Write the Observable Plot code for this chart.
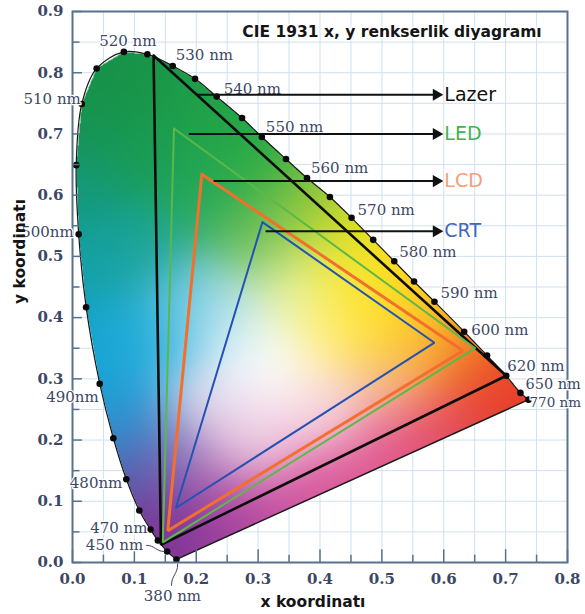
<!DOCTYPE html>
<html>
<head>
<meta charset="utf-8">
<script src="https://cdn.jsdelivr.net/npm/d3@7"></script>
<script src="https://cdn.jsdelivr.net/npm/@observablehq/plot@0.6"></script>
<style>
  body { margin: 0; background: #ffffff; }
  #chart { width: 585px; height: 614px; }
</style>
</head>
<body>
<div id="chart"></div>
<script>
// ---------------- DATA ----------------
const wavelengths = [380, 450, 460, 470, 475, 480, 485, 490, 495, 500, 505, 510, 515, 520, 525, 530, 535, 540, 545, 550, 555, 560, 565, 570, 575, 580, 585, 590, 600, 610, 620, 650, 770];
const locusX = [0.168, 0.153, 0.138, 0.126, 0.108, 0.087, 0.066, 0.044, 0.022, 0.010, 0.006, 0.015, 0.039, 0.083, 0.121, 0.162, 0.198, 0.233, 0.274, 0.306, 0.345, 0.379, 0.416, 0.451, 0.486, 0.520, 0.552, 0.585, 0.633, 0.670, 0.701, 0.724, 0.737];
const locusY = [0.005, 0.018, 0.036, 0.054, 0.085, 0.136, 0.203, 0.292, 0.417, 0.536, 0.649, 0.749, 0.807, 0.834, 0.830, 0.811, 0.790, 0.761, 0.726, 0.695, 0.659, 0.628, 0.597, 0.563, 0.527, 0.492, 0.459, 0.426, 0.377, 0.338, 0.305, 0.277, 0.266];

const labelWavelengths = [520, 530, 540, 550, 560, 570, 580, 590, 600, 620, 650, 770, 510, 500, 490, 480, 470, 450, 380];
const labelTexts = ["520 nm", "530 nm", "540 nm", "550 nm", "560 nm", "570 nm", "580 nm", "590 nm", "600 nm", "620 nm", "650 nm", "770 nm", "510 nm", "500nm", "490nm", "480nm", "470 nm", "450 nm", "380 nm"];

const laserX = [0.131, 0.701, 0.143];
const laserY = [0.828, 0.305, 0.029];
const ledX = [0.164, 0.651, 0.146];
const ledY = [0.709, 0.350, 0.033];
const lcdX = [0.209, 0.631, 0.154];
const lcdY = [0.634, 0.346, 0.052];
const crtX = [0.307, 0.585, 0.167];
const crtY = [0.556, 0.359, 0.089];

const gamutNames = ["Lazer", "LED", "LCD", "CRT"];
const arrowY = [0.764, 0.700, 0.623, 0.541];
const arrowStartX = [0.200, 0.188, 0.228, 0.312];
const arrowEndX = [0.588, 0.588, 0.588, 0.588];

const xTickValues = [0, 0.1, 0.2, 0.3, 0.4, 0.5, 0.6, 0.7, 0.8];
const xTickLabels = ["0.0", "0.1", "0.2", "0.3", "0.4", "0.5", "0.6", "0.7", "0.8"];
const yTickValues = [0, 0.1, 0.2, 0.3, 0.4, 0.5, 0.6, 0.7, 0.8, 0.9];
const yTickLabels = ["0.0", "0.1", "0.2", "0.3", "0.4", "0.5", "0.6", "0.7", "0.8", "0.9"];
const gridXValues = d3.range(0, 17).map(i => i * 0.05);
const gridYValues = d3.range(0, 19).map(i => i * 0.05);

const chartTitle = "CIE 1931 x, y renkserlik diyagramı";
const xTitle = "x koordinatı";
const yTitle = "y koordinatı";

// ---------------- STYLE ----------------
const gamutColors = ["#111111", "#3fb34f", "#f4a07c", "#4266c2"];
const triStyles = [
  {stroke: "#0d0d0d", width: 2.6},
  {stroke: "#5bb84a", width: 2},
  {stroke: "#f2702c", width: 3},
  {stroke: "#2452b2", width: 2}
];
// [dx, dy, textAnchor, fontSize]
const labelStyle = {
  520: [4, -11, "middle", 15], 530: [3, -11, "start", 15], 540: [7, -7, "start", 15], 550: [4, -10, "start", 15],
  560: [4, -10, "start", 15], 570: [6, -8, "start", 15], 580: [5, -9, "start", 15], 590: [6, -9, "start", 15],
  600: [7, -2, "start", 15], 620: [1, -10, "start", 15], 650: [5, -9, "start", 14.5], 770: [1, 3, "start", 13.5],
  510: [-1, -5, "end", 15], 500: [-5, -2, "end", 15], 490: [-1, 13, "end", 15], 480: [-4, 4, "end", 15],
  470: [-3, -1, "end", 15], 450: [-24, -6, "end", 15], 380: [-4, 37, "middle", 15]
};
// colour anchors of the painted gradient (x, y, colour)
const gradX = [0.08, 0.03, 0.15, 0.22, 0.30, 0.38, 0.45, 0.12, 0.21, 0.29, 0.01, 0.02, 0.05, 0.08, 0.10, 0.115, 0.12, 0.14, 0.15, 0.22, 0.30, 0.40, 0.50, 0.60, 0.70, 0.66, 0.61, 0.54, 0.49, 0.31, 0.25, 0.20, 0.22, 0.19, 0.30, 0.41, 0.42, 0.36, 0.52, 0.47, 0.55];
const gradY = [0.80, 0.73, 0.79, 0.73, 0.66, 0.59, 0.53, 0.67, 0.60, 0.53, 0.61, 0.49, 0.37, 0.25, 0.185, 0.13, 0.51, 0.37, 0.04, 0.05, 0.08, 0.12, 0.17, 0.22, 0.27, 0.32, 0.37, 0.44, 0.40, 0.33, 0.39, 0.43, 0.26, 0.16, 0.20, 0.25, 0.38, 0.45, 0.30, 0.44, 0.38];
const gradColor = ["#178f47", "#15934f", "#1b9a48", "#22a348", "#2cab45", "#8cc63f", "#e6e21f", "#199c55", "#25a858", "#6cbf56", "#14987a", "#14a0a6", "#15a5d2", "#1d9fd8", "#3a84c6", "#6a3f9b", "#19a498", "#25b0de", "#763092", "#9a3d9e", "#c04b9f", "#d8559b", "#df558f", "#e44a62", "#e4352b", "#ee5a27", "#f59a1e", "#fcd31c", "#ffe52a", "#ffffff", "#d2eef6", "#7ccce6", "#ebe0f0", "#b073b9", "#f3d3e5", "#f8dce3", "#fff39a", "#e8f29a", "#f6b19a", "#ffe820", "#fdc72a"];

// ---------------- BUILD ----------------
const locus = wavelengths.map((w, i) => ({w, x: locusX[i], y: locusY[i]}));
const locusPoly = locus.map(d => [d.x, d.y]);
const byW = new Map(locus.map(d => [d.w, d]));
const gradRGB = gradColor.map(c => d3.rgb(c));
const sigma2 = 2 * 0.055 * 0.055;

function fieldColor(x, y) {
  if (!d3.polygonContains(locusPoly, [x, y])) return null;
  let sw = 0, r = 0, g = 0, b = 0;
  for (let i = 0; i < gradX.length; ++i) {
    const dx = x - gradX[i], dy = y - gradY[i];
    const w = Math.exp(-(dx * dx + dy * dy) / sigma2) + 1e-12;
    sw += w; r += w * gradRGB[i].r; g += w * gradRGB[i].g; b += w * gradRGB[i].b;
  }
  return `rgb(${Math.round(r / sw)},${Math.round(g / sw)},${Math.round(b / sw)})`;
}

const tri = (X, Y) => [0, 1, 2, 0].map(i => ({x: X[i], y: Y[i]}));
const triangles = [tri(laserX, laserY), tri(ledX, ledY), tri(lcdX, lcdY), tri(crtX, crtY)];
const arrows = gamutNames.map((name, i) => ({name, y: arrowY[i], x1: arrowStartX[i], x2: arrowEndX[i], color: gamutColors[i]}));

const serif = "DejaVu Serif";
const sans = "DejaVu Sans";
const axisCol = "#56728f";
const labelCol = "#3b4764";

const marks = [
  Plot.ruleX(gridXValues, {stroke: "#cfe1ef", strokeWidth: 1}),
  Plot.ruleY(gridYValues, {stroke: "#cfe1ef", strokeWidth: 1}),
  Plot.raster({x1: 0, x2: 0.8, y1: 0, y2: 0.9, fill: fieldColor, pixelSize: 1}),
  Plot.line(locus, {x: "x", y: "y", stroke: "#1a1a1a", strokeWidth: 1.2, curve: "catmull-rom"}),
  Plot.link([0], {x1: () => locusX[0], y1: () => locusY[0], x2: () => locusX[locusX.length - 1], y2: () => locusY[locusY.length - 1], stroke: "#1a1a1a", strokeWidth: 1.5}),
  ...triangles.map((t, i) => Plot.line(t, {x: "x", y: "y", stroke: triStyles[i].stroke, strokeWidth: triStyles[i].width, strokeLinejoin: "miter"})),
  Plot.dot(locus, {x: "x", y: "y", r: 3.3, fill: "#0a0a0a"}),
  // axis ticks (inward)
  Plot.ruleX(gridXValues, {y1: 0, y2: (d, i) => (i % 2 === 0 ? 0.021 : 0.012), stroke: axisCol, strokeWidth: 1.5}),
  Plot.ruleY(gridYValues, {x1: 0, x2: (d, i) => (i % 2 === 0 ? 0.016 : 0.012), stroke: axisCol, strokeWidth: 1.5}),
  Plot.frame({stroke: axisCol, strokeWidth: 2}),
  // tick labels
  Plot.text(xTickValues, {x: d => d, y: 0, text: (d, i) => xTickLabels[i], dy: 17, fontFamily: serif, fontWeight: "bold", fontSize: 15, fill: labelCol}),
  Plot.text(yTickValues, {x: 0, y: d => d, text: (d, i) => yTickLabels[i], dx: -9, textAnchor: "end", fontFamily: serif, fontWeight: "bold", fontSize: 15, fill: labelCol}),
  // wavelength labels
  ...labelWavelengths.map((w, i) => {
    const p = byW.get(w), s = labelStyle[w];
    return Plot.text([p], {x: "x", y: "y", text: () => labelTexts[i], dx: s[0], dy: s[1], textAnchor: s[2], fontFamily: serif, fontSize: s[3], fill: labelCol, stroke: "white", strokeWidth: 2.5, paintOrder: "stroke"});
  }),
  // leader lines
  Plot.link([byW.get(450)], {x1: d => d.x - 0.034, y1: d => d.y + 0.01, x2: d => d.x - 0.004, y2: d => d.y, curve: "bump-x", stroke: labelCol, strokeWidth: 1}),
  Plot.link([byW.get(380)], {x1: d => d.x + 0.002, y1: -0.002, x2: d => d.x - 0.008, y2: -0.038, curve: "bump-y", stroke: labelCol, strokeWidth: 1}),
  // arrows & gamut names
  Plot.link(arrows, {x1: "x1", y1: "y", x2: "x2", y2: "y", stroke: "#111111", strokeWidth: 2}),
  Plot.dot(arrows, {x: "x2", y: "y", symbol: "triangle", rotate: 90, r: 4.5, fill: "#111111"}),
  Plot.text(arrows, {x: "x2", y: "y", text: "name", fill: "color", textAnchor: "start", dx: 8, fontFamily: sans, fontSize: 19}),
  // titles
  Plot.text([chartTitle], {frameAnchor: "top", lineAnchor: "middle", dx: 72, dy: 21, fontFamily: sans, fontWeight: "bold", fontSize: 15.5, fill: "#151515", stroke: "white", strokeWidth: 3, paintOrder: "stroke"}),
  Plot.text([xTitle], {frameAnchor: "bottom", lineAnchor: "middle", dx: -7, dy: 40, fontFamily: sans, fontWeight: "bold", fontSize: 15.5, fill: "#151515"}),
  Plot.text([yTitle], {frameAnchor: "left", lineAnchor: "middle", dx: -52, dy: 17, rotate: -90, fontFamily: sans, fontWeight: "bold", fontSize: 15.5, fill: "#151515"})
];

const chart = Plot.plot({
  width: 585,
  height: 614,
  marginLeft: 72,
  marginRight: 18,
  marginTop: 11,
  marginBottom: 52,
  x: {domain: [0, 0.8], axis: null},
  y: {domain: [0, 0.9], axis: null},
  style: {background: "#ffffff", fontFamily: sans},
  marks
});
document.getElementById("chart").appendChild(chart);
</script>
</body>
</html>
